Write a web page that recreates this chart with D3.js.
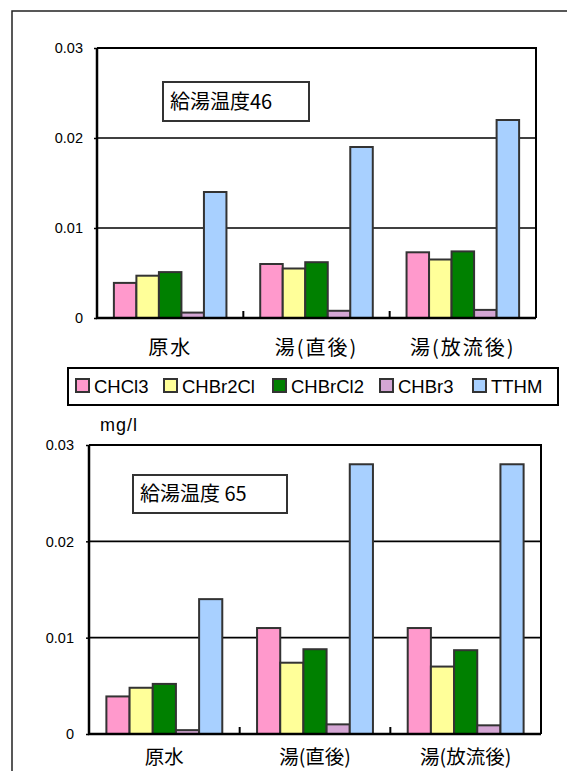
<!DOCTYPE html>
<html>
<head>
<meta charset="utf-8">
<script src="https://cdn.jsdelivr.net/npm/d3@7"></script>
<style>
  html, body { margin: 0; padding: 0; background: #fff; }
  svg { display: block; }
  text { font-family: "Liberation Sans", Arial, sans-serif; fill: #000; }
  .jp { font-family: "Noto Sans CJK JP", "Liberation Sans", sans-serif; }
</style>
</head>
<body>
<svg id="chart" width="567" height="771"></svg>
<script>
// Trihalomethane concentrations (mg/l) by sampling point
const categories = ["原水", "湯(直後)", "湯(放流後)"];
const series = ["CHCl3", "CHBr2Cl", "CHBrCl2", "CHBr3", "TTHM"];
const yTicks = [0, 0.01, 0.02, 0.03];
const yTickLabels = ["0", "0.01", "0.02", "0.03"];

// 給湯温度46
const chcl3_46   = [0.0039, 0.0060, 0.0073];
const chbr2cl_46 = [0.0047, 0.0055, 0.0065];
const chbrcl2_46 = [0.0051, 0.0062, 0.0074];
const chbr3_46   = [0.0006, 0.0008, 0.0009];
const tthm_46    = [0.014, 0.019, 0.022];

// 給湯温度 65
const chcl3_65   = [0.0039, 0.0110, 0.0110];
const chbr2cl_65 = [0.0048, 0.0074, 0.0070];
const chbrcl2_65 = [0.0052, 0.0088, 0.0087];
const chbr3_65   = [0.0004, 0.0010, 0.0009];
const tthm_65    = [0.014, 0.028, 0.028];

const colors = ["#FF99CC", "#FFFF99", "#008000", "#D4A6D4", "#A8D0FF"];

const svg = d3.select("#chart");

// outer frame
svg.append("rect")
  .attr("x", 12).attr("y", 11).attr("width", 620).attr("height", 820)
  .attr("fill", "none").attr("stroke", "#222").attr("stroke-width", 1.5);

function drawPanel(cfg) {
  const { left, top, right, bottom, tickX, title, titleBox, labelOffset, labelSpacing, labelSize, data } = cfg;
  const g = svg.append("g");

  const x = d3.scaleBand().domain(categories).range([left, right]).paddingInner(0).paddingOuter(0);
  const xs = d3.scaleBand().domain(series).range([0, x.bandwidth()]).paddingInner(0).paddingOuter(0.75);
  const y = d3.scaleLinear().domain([0, 0.03]).range([bottom, top]);

  // horizontal gridlines
  g.selectAll("line.grid").data(yTicks.slice(1, 3)).join("line")
    .attr("class", "grid")
    .attr("x1", left).attr("x2", right)
    .attr("y1", d => y(d)).attr("y2", d => y(d))
    .attr("stroke", "#000").attr("stroke-width", 1.6);

  // plot frame (top and right)
  g.append("path")
    .attr("d", `M${left},${top}H${right}V${bottom}`)
    .attr("fill", "none").attr("stroke", "#000").attr("stroke-width", 2);

  // bars
  series.forEach((s, si) => {
    g.selectAll(null).data(categories).join("rect")
      .attr("x", c => x(c) + xs(s))
      .attr("y", (c, ci) => y(data[si][ci]))
      .attr("width", xs.bandwidth())
      .attr("height", (c, ci) => bottom - y(data[si][ci]))
      .attr("fill", colors[si])
      .attr("stroke", "#333").attr("stroke-width", 2);
  });

  // y axis
  const yAxis = d3.axisLeft(y).tickValues(yTicks)
    .tickFormat((d, i) => yTickLabels[i]).tickSize(3).tickPadding(0);
  const ya = g.append("g").attr("transform", `translate(${left},0)`).call(yAxis);
  ya.select(".domain").remove();
  ya.selectAll(".tick line").attr("stroke", "#000").attr("stroke-width", 1.5);
  ya.selectAll(".tick text").remove();
  g.selectAll("text.ytick").data(yTicks).join("text")
    .attr("class", "ytick")
    .attr("x", tickX).attr("y", d => y(d)).attr("dy", "0.36em")
    .attr("text-anchor", "end").attr("font-size", 14.5)
    .text((d, i) => yTickLabels[i]);

  // baseline and left axis line
  g.append("path")
    .attr("d", `M${left},${top}V${bottom}H${right}`)
    .attr("fill", "none").attr("stroke", "#000").attr("stroke-width", 2.5);

  // category separator ticks pointing up
  g.selectAll("line.sep").data(categories.slice(1)).join("line")
    .attr("class", "sep")
    .attr("x1", c => x(c)).attr("x2", c => x(c))
    .attr("y1", bottom).attr("y2", bottom - 7)
    .attr("stroke", "#000").attr("stroke-width", 2);

  // category labels
  g.selectAll("text.cat").data(categories).join("text")
    .attr("class", "cat jp")
    .attr("x", c => x(c) + x.bandwidth() / 2)
    .attr("y", bottom + labelOffset)
    .attr("text-anchor", "middle").attr("font-size", labelSize)
    .attr("letter-spacing", labelSpacing)
    .text(c => c);

  // title box
  g.append("rect")
    .attr("x", titleBox[0]).attr("y", titleBox[1])
    .attr("width", titleBox[2]).attr("height", titleBox[3])
    .attr("fill", "#fff").attr("stroke", "#333").attr("stroke-width", 2);
  g.append("text").attr("class", "jp")
    .attr("x", titleBox[0] + 7).attr("y", titleBox[1] + titleBox[3] / 2)
    .attr("dy", "0.36em").attr("font-size", 20)
    .text(title);
}

drawPanel({
  left: 97, top: 48, right: 536, bottom: 318, tickX: 83,
  title: "給湯温度46", titleBox: [163, 82, 146, 39],
  labelOffset: 37, labelSpacing: 2, labelSize: 20,
  data: [chcl3_46, chbr2cl_46, chbrcl2_46, chbr3_46, tthm_46]
});

drawPanel({
  left: 89, top: 445, right: 541, bottom: 734, tickX: 74,
  title: "給湯温度 65", titleBox: [133, 475, 154, 38],
  labelOffset: 30, labelSpacing: 0, labelSize: 19.5,
  data: [chcl3_65, chbr2cl_65, chbrcl2_65, chbr3_65, tthm_65]
});

// legend
const legend = svg.append("g");
legend.append("rect")
  .attr("x", 68).attr("y", 368).attr("width", 490).attr("height", 37)
  .attr("fill", "#fff").attr("stroke", "#000").attr("stroke-width", 2);
const legendX = d3.scaleOrdinal().domain(series).range([76, 164, 273, 380, 473]);
const li = legend.selectAll("g.item").data(series).join("g")
  .attr("class", "item")
  .attr("transform", s => `translate(${legendX(s)},379)`);
li.append("rect")
  .attr("width", 13).attr("height", 13)
  .attr("fill", (s, i) => colors[i])
  .attr("stroke", "#333").attr("stroke-width", 2);
li.append("text")
  .attr("x", 18).attr("y", 7).attr("dy", "0.36em")
  .attr("font-size", 18.5)
  .text(s => s);

// unit label
svg.append("text")
  .attr("x", 100).attr("y", 431)
  .attr("font-size", 18).attr("letter-spacing", 1)
  .text("mg/l");
</script>
</body>
</html>
